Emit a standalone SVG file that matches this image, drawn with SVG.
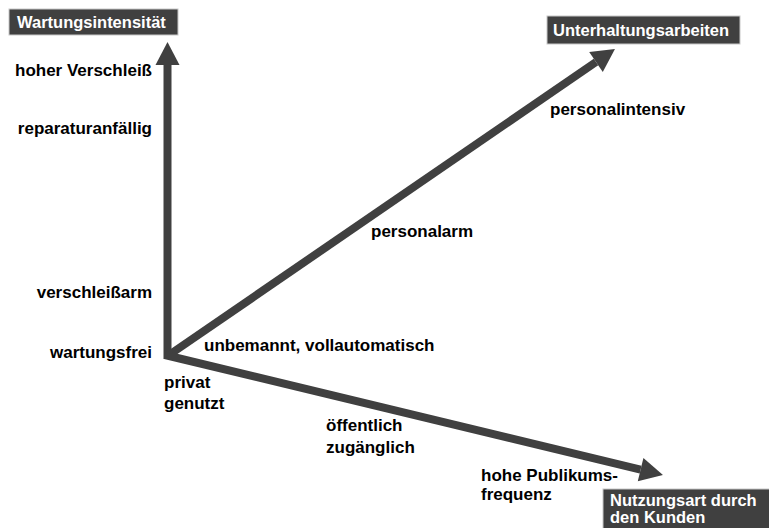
<svg xmlns="http://www.w3.org/2000/svg" width="769" height="528" viewBox="0 0 769 528">
<style>
.lbl{font-family:"Liberation Sans",Arial,sans-serif;font-weight:bold;font-size:17px;fill:#000}
.r{text-anchor:end}
.hdr{font-family:"Liberation Sans",Arial,sans-serif;font-weight:bold;font-size:16.5px;fill:#fff}
.box{fill:#404040;stroke:#c8c8c8;stroke-width:1}
.ax{stroke:#404040;stroke-width:8;fill:none}
</style>
<defs>
<marker id="ah" markerUnits="userSpaceOnUse" markerWidth="26" markerHeight="26" refX="0" refY="12" orient="auto" overflow="visible">
<path d="M0,0 L23,12 L0,24 Z" fill="#404040"/>
</marker>
</defs>
<rect width="769" height="528" fill="#fff"/>
<g id="connectors">
<line class="ax" x1="167.5" y1="359" x2="167.5" y2="65" marker-end="url(#ah)"/>
<line class="ax" x1="167.5" y1="356" x2="596" y2="62" marker-end="url(#ah)"/>
<line class="ax" x1="165" y1="355" x2="640.6" y2="469.6" marker-end="url(#ah)"/>
</g>
<g id="wartungsintensitaet">
<rect class="box" x="9" y="9" width="169" height="26"/>
<text class="hdr" x="17" y="28">Wartungsintensität</text>
</g>
<g id="unterhaltungsarbeiten">
<rect class="box" x="547" y="16" width="193" height="28"/>
<text class="hdr" x="553" y="36">Unterhaltungsarbeiten</text>
</g>
<g id="nutzungsart">
<rect class="box" x="603" y="489" width="170" height="45"/>
<text class="hdr" x="610" y="506">Nutzungsart durch</text>
<text class="hdr" x="610" y="523">den Kunden</text>
</g>
<g id="labels">
<text class="lbl r" x="152" y="76">hoher Verschleiß</text>
<text class="lbl r" x="152" y="134">reparaturanfällig</text>
<text class="lbl r" x="152" y="298">verschleißarm</text>
<text class="lbl r" x="152" y="358">wartungsfrei</text>
<text class="lbl" x="164" y="388">privat</text>
<text class="lbl" x="164" y="409">genutzt</text>
<text class="lbl" x="204" y="351">unbemannt, vollautomatisch</text>
<text class="lbl" x="371" y="237">personalarm</text>
<text class="lbl" x="550" y="115">personalintensiv</text>
<text class="lbl" x="326" y="431">öffentlich</text>
<text class="lbl" x="326" y="453">zugänglich</text>
<text class="lbl" x="481" y="481">hohe Publikums-</text>
<text class="lbl" x="481" y="500">frequenz</text>
</g>
</svg>
